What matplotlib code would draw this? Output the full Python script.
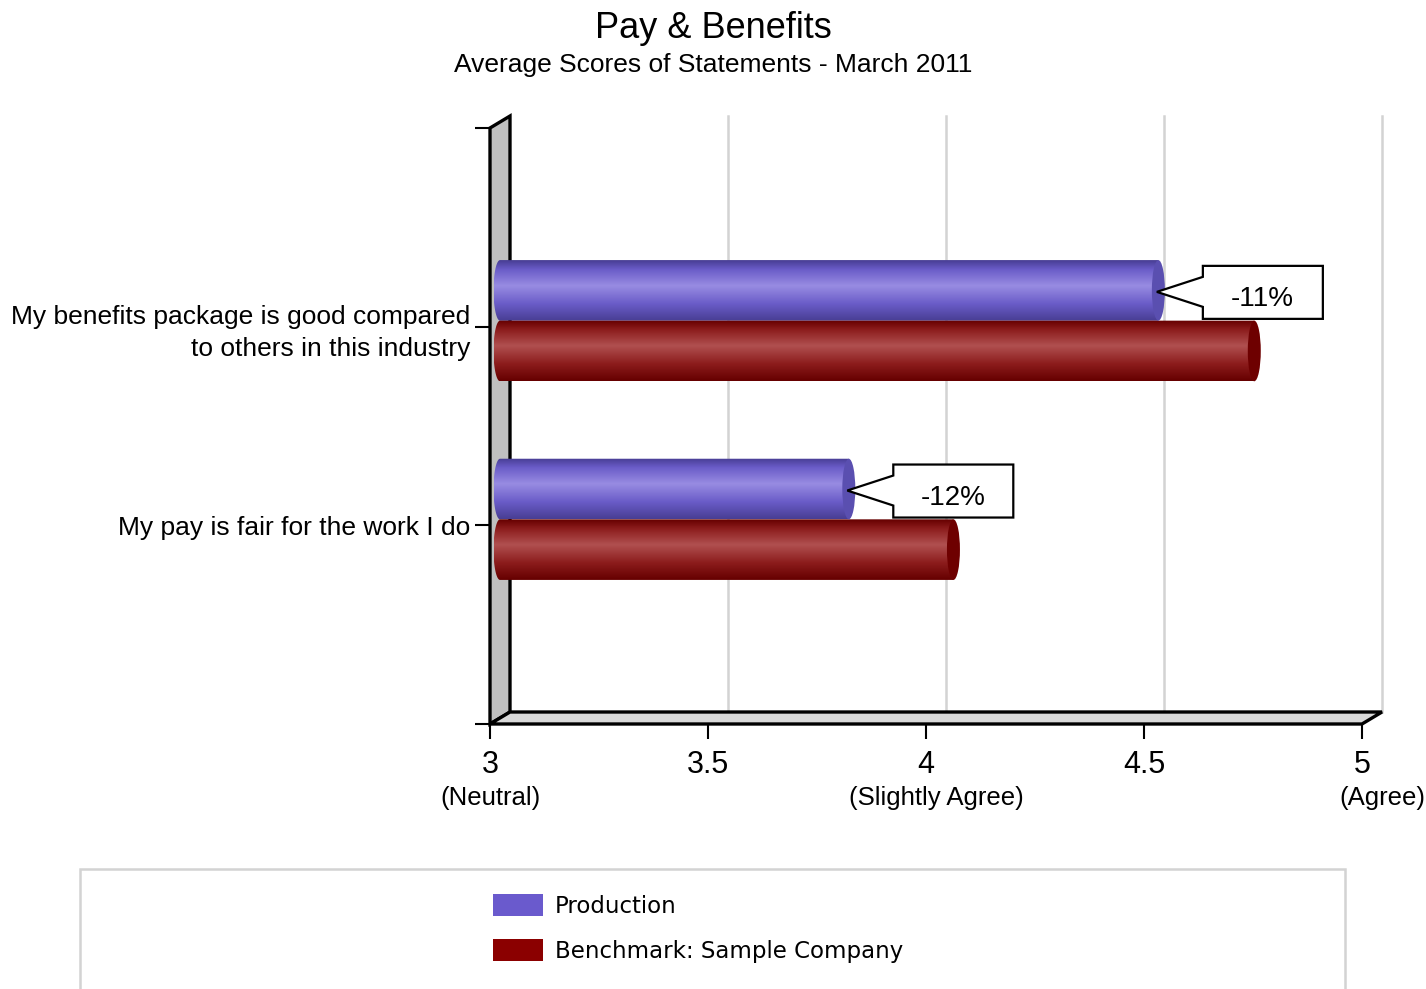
# Pay & Benefits - pseudo 3D cylinder bar chart
import numpy as np
import matplotlib.pyplot as plt
from matplotlib.patches import Polygon, Ellipse, PathPatch, Rectangle, Patch
from matplotlib.path import Path

plt.rcParams['font.family'] = ['Liberation Sans', 'DejaVu Sans']

# Data
categories = ['My pay is fair for the work I do',
              'My benefits package is good compared\nto others in this industry']
production = [3.80, 4.51]
benchmark = [4.04, 4.73]
differences = ['-12%', '-11%']
series_names = ['Production', 'Benchmark: Sample Company']
x_ticks = [3, 3.5, 4, 4.5, 5]
x_tick_labels = ['3', '3.5', '4', '4.5', '5']
descriptor_ticks = [3, 4, 5]
descriptor_labels = ['(Neutral)', '(Slightly Agree)', '(Agree)']

W, H = 1426, 989
fig = plt.figure(figsize=(W / 100, H / 100), dpi=100)

# front plane of the plot box, in pixels
L, R, T, B = 490, 1362, 128, 724
ax = fig.add_axes([L / W, 1 - B / H, (R - L) / W, (B - T) / H])
ax.set_xlim(3, 5)
ax.set_ylim(0, 3)
px_x = 2 / (R - L)
px_y = 3 / (B - T)
DX, DY = 20 * px_x, 12 * px_y   # depth of the 3D box

# wall, floor and gridlines
wall = Polygon([(3, 0), (3, 3), (3 + DX, 3 + DY), (3 + DX, DY)],
               fc='#c0c0c0', ec='black', lw=2.4, clip_on=False, zorder=2)
floor = Polygon([(3, 0), (5, 0), (5 + DX, DY), (3 + DX, DY)],
                fc='#d9d9d9', ec='black', lw=2.4, clip_on=False, zorder=2)
ax.add_patch(wall)
ax.add_patch(floor)
for x in x_ticks[1:]:
    ax.plot([x + DX, x + DX], [DY, 3 + DY], color='#d3d3d3', lw=1.8,
            clip_on=False, zorder=1)


def gradient(dark, mid, light):
    t = np.linspace(0, 1, 80)
    stops = [0, 0.15, 0.42, 0.72, 1]
    cols = np.array([dark, mid, light, mid, dark]) / 255
    img = np.stack([np.interp(t, stops, cols[:, c]) for c in range(3)], axis=1)
    return img[:, None, :]


def cylinder(value, y_center, h, grad, cap):
    x0 = 3 + DX / 2
    x1 = value + DX / 2
    yc = y_center + DY / 2
    rx = 6.5 * px_x
    th = np.linspace(np.pi / 2, 3 * np.pi / 2, 40)
    verts = list(zip(x0 + rx * np.cos(th), yc + h / 2 * np.sin(th)))
    verts += [(x1, yc - h / 2), (x1, yc + h / 2), (x0, yc + h / 2)]
    clip = PathPatch(Path(verts, closed=True), transform=ax.transData,
                     fc='none', ec='none')
    img = ax.imshow(grad, extent=(x0 - rx, x1, yc - h / 2, yc + h / 2),
                    aspect='auto', interpolation='bilinear', zorder=3)
    img.set_clip_path(clip)
    ax.add_patch(Ellipse((x1, yc), 2 * rx, h, fc=cap, ec='none', zorder=4))


prod_grad = gradient((72, 62, 148), (106, 92, 200), (152, 140, 226))
bench_grad = gradient((102, 0, 0), (140, 28, 28), (176, 80, 80))
bh = 0.305

for i in range(len(categories)):
    cat = i + 1
    cylinder(production[i], cat + bh / 2, bh, prod_grad, '#5a4fb0')
    cylinder(benchmark[i], cat - bh / 2, bh, bench_grad, '#6e0000')

    # callout pointing at the end of the production bar
    tx = production[i] + DX / 2
    ty = cat + bh / 2 + DY / 2 - 1.5 * px_y
    shape = [(0, 0), (46, 15), (46, 26), (166, 26), (166, -27), (46, -27), (46, -15)]
    verts = [(tx - 1.5 * px_x + sx * px_x, ty + sy * px_y) for sx, sy in shape]
    ax.add_patch(Polygon(verts, closed=True, fc='white', ec='black', lw=1.6,
                         clip_on=False, zorder=5))
    ax.text(tx + 104 * px_x, ty - 7 * px_y, differences[i], ha='center',
            va='center', fontsize=20, zorder=6)

ax.set_xlim(3, 5)
ax.set_ylim(0, 3)

# axes
for s in ax.spines.values():
    s.set_visible(False)
ax.set_xticks(x_ticks)
ax.set_xticklabels(x_tick_labels)
ax.tick_params(axis='x', length=10.8, width=1.5, pad=8, labelsize=22)
ax.set_yticks([0, 1, 2, 3])
ax.set_yticklabels([''] + categories + [''], linespacing=1.42)
ax.tick_params(axis='y', length=10.8, width=1.5, pad=3.5, labelsize=19)

desc_offsets = [1, 10, 20]
for x, lab, off in zip(descriptor_ticks, descriptor_labels, desc_offsets):
    ax.annotate(lab, xy=(x, 0), xycoords=('data', 'axes fraction'),
                xytext=(off, -74), textcoords='offset pixels',
                ha='center', va='center', fontsize=18.5, annotation_clip=False)

# titles
fig.text(0.5, 1 - 28 / H, 'Pay & Benefits', ha='center', va='center', fontsize=26)
fig.text(0.5, 1 - 65 / H, 'Average Scores of Statements - March 2011',
         ha='center', va='center', fontsize=19)

# legend box
fig.add_artist(Rectangle((80 / W, -0.05), (1345 - 80) / W, (989 - 869) / H + 0.05,
                         transform=fig.transFigure, fill=False, ec='#d3d3d3', lw=1.8))
handles = [Patch(fc='#6a5acd', ec='none'), Patch(fc='#8b0000', ec='none')]
fig.legend(handles, series_names, loc='upper left',
           bbox_to_anchor=(493 / W, 1 - 894 / H), frameon=False,
           prop={'family': 'DejaVu Sans', 'size': 16.5},
           handlelength=2.18, handleheight=1.1, handletextpad=0.52,
           labelspacing=0.92, borderpad=0, borderaxespad=0)

fig.savefig('out.png', dpi=100)
